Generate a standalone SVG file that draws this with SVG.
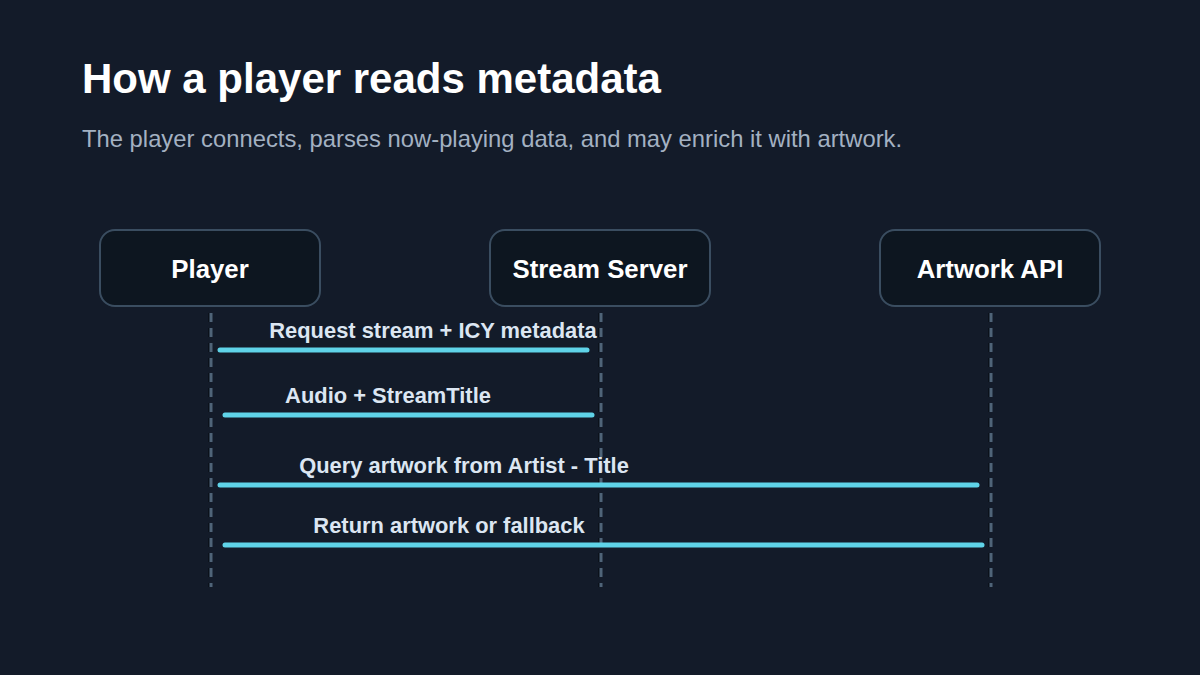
<svg xmlns="http://www.w3.org/2000/svg" width="1200" height="675" viewBox="0 0 1200 675">
<style>
text{font-family:"Liberation Sans",Arial,Helvetica,sans-serif}
.title{font-weight:700;font-size:42px;fill:#ffffff}
.sub{font-size:23.8px;fill:#a3b1c2}
.box{fill:#0d1620;stroke:#3a4d60;stroke-width:2}
.nl{font-weight:700;font-size:25.8px;fill:#ffffff;text-anchor:middle}
.life{stroke:#4f6478;stroke-width:3;stroke-dasharray:9 6}
.lifesh{stroke:#05080c;stroke-width:1;stroke-dasharray:9 6}
.msg{stroke:#5fd3e8;stroke-width:5;stroke-linecap:round;fill:none}
.ml{font-weight:700;font-size:21.9px;fill:#dce6f2;text-anchor:middle}
</style>
<rect width="1200" height="675" fill="#131b29"/>
<text class="title" x="82" y="93">How a player reads metadata</text>
<text class="sub" x="82" y="147">The player connects, parses now-playing data, and may enrich it with artwork.</text>
<g id="lifelines">
<line class="lifesh" x1="209" y1="313" x2="209" y2="587"/>
<line class="life" x1="211" y1="313" x2="211" y2="587"/>
<line class="lifesh" x1="599" y1="313" x2="599" y2="587"/>
<line class="life" x1="601" y1="313" x2="601" y2="587"/>
<line class="lifesh" x1="989" y1="313" x2="989" y2="587"/>
<line class="life" x1="991" y1="313" x2="991" y2="587"/>
</g>
<g id="node-player">
<rect class="box" x="100" y="230" width="220" height="76" rx="15"/>
<text class="nl" x="210" y="278">Player</text>
</g>
<g id="node-server">
<rect class="box" x="490" y="230" width="220" height="76" rx="15"/>
<text class="nl" x="600" y="278">Stream Server</text>
</g>
<g id="node-api">
<rect class="box" x="880" y="230" width="220" height="76" rx="15"/>
<text class="nl" x="990" y="278">Artwork API</text>
</g>
<g id="connectors">
<line class="msg" x1="220" y1="350" x2="587" y2="350"/>
<text class="ml" x="433" y="338">Request stream + ICY metadata</text>
<line class="msg" x1="225" y1="415" x2="592" y2="415"/>
<text class="ml" x="388" y="403">Audio + StreamTitle</text>
<line class="msg" x1="220" y1="485" x2="977" y2="485"/>
<text class="ml" x="464" y="473">Query artwork from Artist - Title</text>
<line class="msg" x1="225" y1="545" x2="982" y2="545"/>
<text class="ml" x="449" y="533">Return artwork or fallback</text>
</g>
</svg>
